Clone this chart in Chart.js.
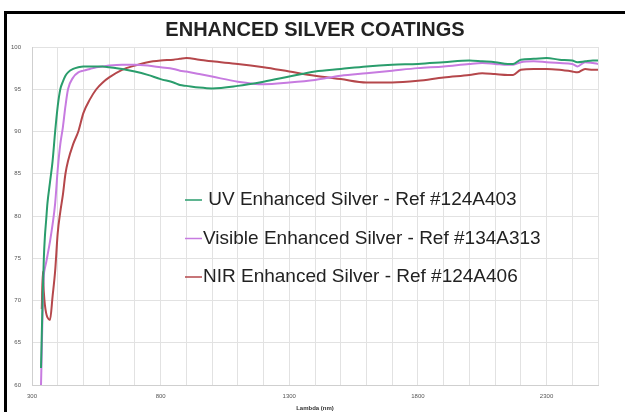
<!DOCTYPE html>
<html>
<head>
<meta charset="utf-8">
<script src="https://cdn.jsdelivr.net/npm/chart.js@4.4.1/dist/chart.umd.min.js"></script>
<style>
  html, body { margin: 0; padding: 0; background: #fff; overflow: hidden; }
  #frame {
    position: absolute; left: 4px; top: 11px;
    width: 800px; height: 600px;
    border: 3px solid #000;
  }
  #wrap { position: absolute; left: 0; top: 0; width: 625px; height: 412px; }
</style>
</head>
<body>
<div id="frame"></div>
<div id="wrap"><canvas id="myChart" width="625" height="412"></canvas></div>
<script>
// wavelength in nm (shared by all three curves)
const wavelengths = [335, 338, 342, 346, 350, 355, 360, 370, 380, 390, 400, 410, 420, 430, 440, 460, 480, 500, 525, 550,
  575, 600, 650, 700, 750, 800, 850, 875, 900, 950, 1000, 1100, 1200, 1300, 1400, 1500, 1600, 1700, 1800, 1900,
  2000, 2050, 2100, 2150, 2170, 2200, 2250, 2300, 2350, 2400, 2420, 2450, 2480, 2500];

// reflectance %
const uvSilver = [62, 66, 71, 75, 77.5, 79.5, 81.5, 84, 86.5, 90, 93, 95, 95.9, 96.6, 97.0, 97.4, 97.6, 97.7, 97.7, 97.7,
  97.7, 97.6, 97.4, 97.1, 96.7, 96.2, 95.8, 95.5, 95.4, 95.2, 95.1, 95.4, 95.9, 96.5, 97.1, 97.4, 97.7, 97.9, 98.0, 98.2,
  98.4, 98.3, 98.2, 98.0, 98.0, 98.5, 98.6, 98.7, 98.5, 98.4, 98.2, 98.3, 98.4, 98.4];

const visibleSilver = [60, 64, 70, 73, 73.8, 74.5, 75.3, 77, 79, 81.5, 85.5, 88.5, 90.5, 93, 95, 96.4, 97.0, 97.2, 97.4, 97.6,
  97.7, 97.8, 97.9, 97.9, 97.8, 97.6, 97.4, 97.2, 97.1, 96.8, 96.5, 95.9, 95.6, 95.8, 96.1, 96.6, 96.9, 97.2, 97.5, 97.7,
  98.0, 98.1, 98.0, 97.9, 97.9, 98.2, 98.3, 98.2, 98.1, 98.0, 97.7, 98.2, 98.1, 98.0];

const nirSilver = [null, 69, 73.4, 71, 69.5, 68.5, 68, 67.7, 70.5, 73.5, 78, 80.5, 82.5, 85, 86.5, 88.5, 90, 92.2, 93.8, 95,
  95.8, 96.4, 97.3, 97.8, 98.2, 98.4, 98.5, 98.6, 98.7, 98.5, 98.3, 98.0, 97.6, 97.1, 96.6, 96.2, 95.8, 95.8, 96.0, 96.4,
  96.7, 96.9, 96.8, 96.7, 96.7, 97.3, 97.4, 97.4, 97.3, 97.1, 97.0, 97.4, 97.3, 97.3];

const seriesNames = [" UV Enhanced Silver - Ref #124A403", "Visible Enhanced Silver - Ref #134A313", "NIR Enhanced Silver - Ref #124A406"];
const seriesColors = ["#2a9d6c", "#c77be0", "#b5474b"];

function toPoints(values) {
  return wavelengths.map((w, i) => ({ x: w, y: values[i] }));
}

// legend drawn inside the plot area
const innerLegend = {
  id: "innerLegend",
  afterDatasetsDraw(chart) {
    const ctx = chart.ctx;
    const area = chart.chartArea;
    const x0 = area.left + 153;
    const y0 = area.top + 153;
    ctx.save();
    ctx.font = "19px 'Liberation Sans', Arial, sans-serif";
    ctx.textBaseline = "middle";
    chart.data.datasets.forEach((ds, i) => {
      const y = y0 + i * 38.5;
      ctx.strokeStyle = ds.borderColor;
      ctx.lineWidth = 1.5;
      ctx.beginPath();
      ctx.moveTo(x0, y);
      ctx.lineTo(x0 + 17, y);
      ctx.stroke();
      ctx.fillStyle = "#222";
      ctx.fillText(ds.label, x0 + 18, y);
    });
    ctx.restore();
  },
};

const data = {
  datasets: [
    { label: seriesNames[0], data: toPoints(uvSilver), borderColor: seriesColors[0] },
    { label: seriesNames[1], data: toPoints(visibleSilver), borderColor: seriesColors[1] },
    { label: seriesNames[2], data: toPoints(nirSilver), borderColor: seriesColors[2] },
  ],
};

const config = {
  type: "line",
  data: data,
  plugins: [innerLegend],
  options: {
    responsive: false,
    animation: false,
    layout: { padding: { left: 0, right: 27, top: 0, bottom: 0 } },
    elements: {
      point: { radius: 0 },
      line: { borderWidth: 2, cubicInterpolationMode: "monotone" },
    },
    plugins: {
      legend: { display: false },
      tooltip: { enabled: false },
      title: {
        display: true,
        fullSize: false,
        text: "ENHANCED SILVER COATINGS",
        color: "#222",
        font: { family: "'Liberation Sans', Arial, sans-serif", size: 20, weight: "bold" },
        padding: { top: 18, bottom: 5 },
      },
    },
    scales: {
      x: {
        type: "linear",
        min: 300,
        max: 2500,
        grid: { color: "#e2e2e2", drawTicks: false },
        border: { color: "#cfcfcf" },
        ticks: {
          stepSize: 100,
          autoSkip: false,
          maxRotation: 0,
          padding: 8,
          color: "#555",
          font: { size: 6 },
          callback: (v) => ((v - 300) % 500 === 0 ? v : ""),
        },
        title: {
          display: true,
          text: "Lambda (nm)",
          color: "#333",
          font: { size: 6, weight: "bold" },
          padding: { top: 0, bottom: 0 },
        },
        afterFit: (scale) => { scale.height = 27; },
      },
      y: {
        min: 60,
        max: 100,
        grid: { color: "#e2e2e2", drawTicks: false },
        border: { color: "#cfcfcf" },
        ticks: { stepSize: 5, padding: 11, color: "#555", font: { size: 6 } },
        afterFit: (scale) => { scale.width = 32; },
      },
    },
  },
};

new Chart(document.getElementById("myChart"), config);
</script>
</body>
</html>
